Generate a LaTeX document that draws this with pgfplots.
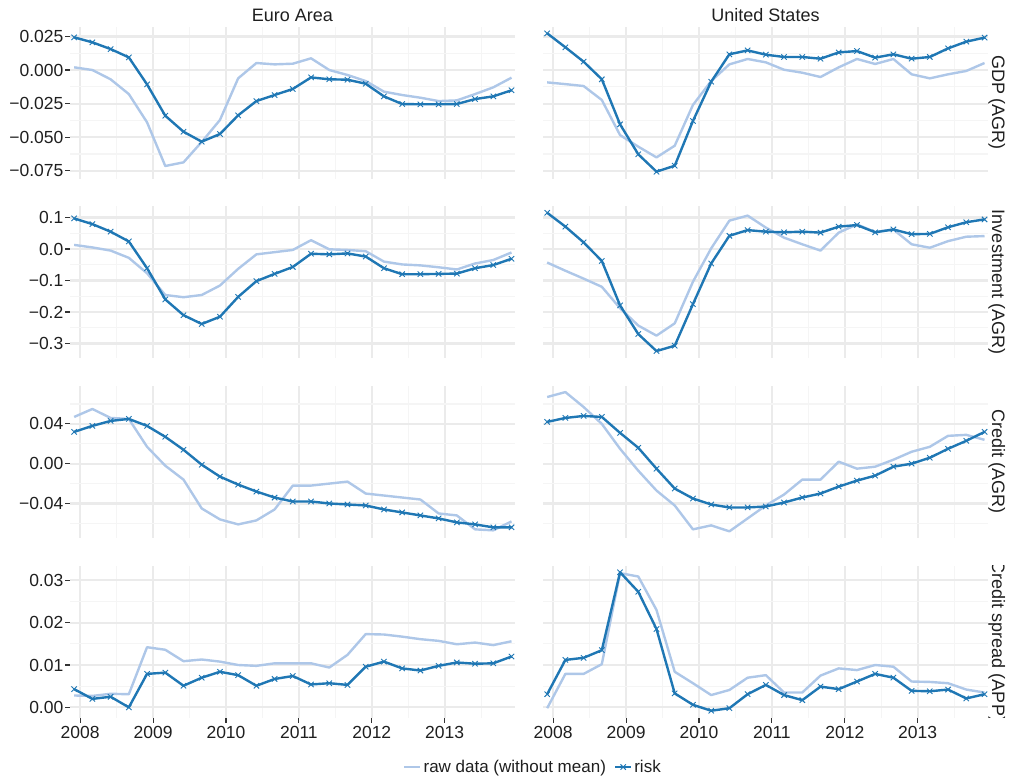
\documentclass[border=0pt]{standalone}
\usepackage{fontspec}
\setmainfont{Liberation Sans}
\usepackage{pgfplots}
\pgfplotsset{compat=1.18}
\usepackage{pgfplotstable}
\definecolor{riskc}{HTML}{1F77B4}
\definecolor{rawc}{HTML}{AEC7E8}
\definecolor{gridmaj}{HTML}{EBEBEB}
\definecolor{gridmin}{HTML}{F5F5F5}
\definecolor{tickc}{HTML}{333333}

\pgfplotstableread{
x        earaw   earisk  usraw   usrisk
2007.917  0.0020  0.0243 -0.0092  0.0273
2008.167  0.0000  0.0206 -0.0105  0.0169
2008.417 -0.0069  0.0156 -0.0119  0.0062
2008.667 -0.0179  0.0094 -0.0223 -0.0069
2008.917 -0.0389 -0.0107 -0.0484 -0.0404
2009.167 -0.0714 -0.0340 -0.0570 -0.0627
2009.417 -0.0687 -0.0459 -0.0650 -0.0756
2009.667 -0.0535 -0.0533 -0.0563 -0.0712
2009.917 -0.0372 -0.0476 -0.0260 -0.0379
2010.167 -0.0062 -0.0337 -0.0082 -0.0087
2010.417  0.0052 -0.0231  0.0042  0.0117
2010.667  0.0042 -0.0186  0.0082  0.0146
2010.917  0.0047 -0.0141  0.0057  0.0114
2011.167  0.0087 -0.0055  0.0002  0.0097
2011.417  0.0000 -0.0069 -0.0020  0.0097
2011.667 -0.0037 -0.0072 -0.0052  0.0084
2011.917 -0.0082 -0.0102  0.0020  0.0131
2012.167 -0.0161 -0.0196  0.0082  0.0141
2012.417 -0.0186 -0.0253  0.0045  0.0092
2012.667 -0.0206 -0.0255  0.0082  0.0117
2012.917 -0.0231 -0.0255 -0.0032  0.0084
2013.167 -0.0226 -0.0253 -0.0062  0.0097
2013.417 -0.0179 -0.0216 -0.0032  0.0161
2013.667 -0.0129 -0.0196 -0.0007  0.0211
2013.917 -0.0057 -0.0151  0.0052  0.0241
}\gdp

\pgfplotstableread{
x        earaw   earisk  usraw   usrisk
2007.917  0.013   0.097  -0.043   0.115
2008.167  0.005   0.079  -0.069   0.071
2008.417 -0.005   0.055  -0.094   0.021
2008.667 -0.028   0.024  -0.120  -0.038
2008.917 -0.077  -0.061  -0.188  -0.179
2009.167 -0.146  -0.160  -0.243  -0.270
2009.417 -0.153  -0.210  -0.275  -0.324
2009.667 -0.146  -0.238  -0.236  -0.307
2009.917 -0.116  -0.215  -0.104  -0.175
2010.167 -0.063  -0.152   0.002  -0.046
2010.417 -0.017  -0.102   0.090   0.042
2010.667 -0.010  -0.079   0.106   0.060
2010.917 -0.003  -0.057   0.068   0.055
2011.167  0.028  -0.015   0.036   0.053
2011.417 -0.001  -0.017   0.015   0.055
2011.667 -0.003  -0.014  -0.005   0.052
2011.917 -0.007  -0.024   0.052   0.071
2012.167 -0.040  -0.061   0.078   0.076
2012.417 -0.049  -0.080   0.054   0.053
2012.667 -0.052  -0.080   0.062   0.062
2012.917 -0.058  -0.079   0.015   0.047
2013.167 -0.065  -0.078   0.004   0.048
2013.417 -0.046  -0.061   0.025   0.069
2013.667 -0.035  -0.051   0.039   0.085
2013.917 -0.011  -0.031   0.041   0.094
}\inv

\pgfplotstableread{
x        earaw   earisk  usraw   usrisk
2007.917  0.047   0.032   0.067   0.042
2008.167  0.055   0.038   0.072   0.046
2008.417  0.046   0.043   0.057   0.048
2008.667  0.045   0.045   0.040   0.047
2008.917  0.017   0.038   0.015   0.031
2009.167 -0.002   0.027  -0.007   0.016
2009.417 -0.016   0.014  -0.027  -0.005
2009.667 -0.045  -0.001  -0.042  -0.025
2009.917 -0.056  -0.013  -0.066  -0.035
2010.167 -0.061  -0.021  -0.062  -0.041
2010.417 -0.057  -0.028  -0.068  -0.044
2010.667 -0.046  -0.034  -0.055  -0.044
2010.917 -0.022  -0.038  -0.042  -0.043
2011.167 -0.022  -0.038  -0.031  -0.039
2011.417 -0.020  -0.040  -0.016  -0.034
2011.667 -0.018  -0.041  -0.016  -0.030
2011.917 -0.030  -0.042   0.002  -0.023
2012.167 -0.032  -0.046  -0.005  -0.017
2012.417 -0.034  -0.049  -0.003  -0.012
2012.667 -0.036  -0.052   0.004  -0.003
2012.917 -0.050  -0.055   0.012   0.000
2013.167 -0.052  -0.059   0.017   0.006
2013.417 -0.066  -0.061   0.028   0.015
2013.667 -0.067  -0.064   0.029   0.023
2013.917 -0.058  -0.064   0.024   0.032
}\cred

\pgfplotstableread{
x        earaw   earisk  usraw   usrisk
2007.917  0.0028  0.0043 -0.0002  0.0031
2008.167  0.0027  0.0020  0.0079  0.0112
2008.417  0.0032  0.0025  0.0079  0.0117
2008.667  0.0031  0.0000  0.0102  0.0135
2008.917  0.0142  0.0079  0.0317  0.0319
2009.167  0.0136  0.0082  0.0309  0.0273
2009.417  0.0109  0.0051  0.0230  0.0185
2009.667  0.0113  0.0070  0.0084  0.0033
2009.917  0.0108  0.0084  0.0057  0.0006
2010.167  0.0100  0.0076  0.0029 -0.0008
2010.417  0.0098  0.0051  0.0041 -0.0002
2010.667  0.0104  0.0067  0.0070  0.0031
2010.917  0.0104  0.0074  0.0076  0.0053
2011.167  0.0104  0.0054  0.0035  0.0029
2011.417  0.0094  0.0057  0.0035  0.0017
2011.667  0.0124  0.0053  0.0075  0.0049
2011.917  0.0173  0.0096  0.0092  0.0043
2012.167  0.0172  0.0108  0.0088  0.0061
2012.417  0.0167  0.0092  0.0100  0.0079
2012.667  0.0161  0.0087  0.0096  0.0070
2012.917  0.0157  0.0098  0.0061  0.0039
2013.167  0.0149  0.0106  0.0060  0.0038
2013.417  0.0153  0.0103  0.0057  0.0042
2013.667  0.0147  0.0104  0.0042  0.0021
2013.917  0.0156  0.0120  0.0035  0.0031
}\spread

\pgfplotsset{
  panel/.style={
    scale only axis, width=445bp, height=152bp, anchor=north west,
    xmin=2007.86, xmax=2013.965,
    xtick={2008,2009,2010,2011,2012,2013},
    xticklabels={2008,2009,2010,2011,2012,2013},
    minor xtick={2008.5,2009.5,2010.5,2011.5,2012.5,2013.5},
    scaled ticks=false,
    grid=both,
    major grid style={draw=gridmaj, line width=2.2bp},
    minor grid style={draw=gridmin, line width=1.1bp},
    axis line style={draw=none},
    tick pos=left, tick align=outside,
    major tick length=5bp, minor tick length=0pt,
    tick style={draw=tickc, line width=1.1bp},
    ticklabel style={font=\fontsize{17.5bp}{20bp}\selectfont, text=black!88, inner sep=1.5bp},
    xticklabel style={yshift=-2bp},
    /pgf/number format/assume math mode=true,
    clip=true,
  },
  notbottom/.style={xticklabels={}, xtick style={draw=none}},
  rightcol/.style={yticklabels={}, ytick style={draw=none}},
  rowA/.style={ymin=-0.0807, ymax=0.03237,
    ytick={-0.075,-0.05,-0.025,0,0.025},
    yticklabels={−0.075,−0.050,−0.025,0.000,0.025},
    minor ytick={-0.0625,-0.0375,-0.0125,0.0125}},
  rowB/.style={ymin=-0.346, ymax=0.1365,
    ytick={-0.3,-0.2,-0.1,0,0.1},
    yticklabels={−0.3,−0.2,−0.1,0.0,0.1},
    minor ytick={-0.25,-0.15,-0.05,0.05}},
  rowC/.style={ymin=-0.0745, ymax=0.0783,
    ytick={-0.04,0,0.04},
    yticklabels={−0.04,0.00,0.04},
    minor ytick={-0.06,-0.02,0.02,0.06}},
  rowD/.style={ymin=-0.0024, ymax=0.0335,
    ytick={0,0.01,0.02,0.03},
    yticklabels={0.00,0.01,0.02,0.03},
    minor ytick={0.005,0.015,0.025}},
  rawline/.style={rawc, line width=2.4bp, line join=round, no markers},
  riskline/.style={riskc, line width=2.4bp, line join=round, mark=x, mark size=3.8bp,
    mark options={line width=0.9bp, solid}},
}

\begin{document}
\begin{tikzpicture}
\useasboundingbox (0bp,0bp) rectangle (1010bp,-778bp);

% Row 1 GDP
\begin{axis}[panel, rowA, notbottom, at={(70bp,-26.5bp)}]
\addplot[rawline] table[x=x,y=earaw]{\gdp};
\addplot[riskline] table[x=x,y=earisk]{\gdp};
\end{axis}
\begin{axis}[panel, rowA, notbottom, rightcol, at={(543bp,-26.5bp)}]
\addplot[rawline] table[x=x,y=usraw]{\gdp};
\addplot[riskline] table[x=x,y=usrisk]{\gdp};
\end{axis}

% Row 2 Investment
\begin{axis}[panel, rowB, notbottom, at={(70bp,-206bp)}]
\addplot[rawline] table[x=x,y=earaw]{\inv};
\addplot[riskline] table[x=x,y=earisk]{\inv};
\end{axis}
\begin{axis}[panel, rowB, notbottom, rightcol, at={(543bp,-206bp)}]
\addplot[rawline] table[x=x,y=usraw]{\inv};
\addplot[riskline] table[x=x,y=usrisk]{\inv};
\end{axis}

% Row 3 Credit
\begin{axis}[panel, rowC, notbottom, at={(70bp,-385.8bp)}]
\addplot[rawline] table[x=x,y=earaw]{\cred};
\addplot[riskline] table[x=x,y=earisk]{\cred};
\end{axis}
\begin{axis}[panel, rowC, notbottom, rightcol, at={(543bp,-385.8bp)}]
\addplot[rawline] table[x=x,y=usraw]{\cred};
\addplot[riskline] table[x=x,y=usrisk]{\cred};
\end{axis}

% Row 4 Credit spread
\begin{axis}[panel, rowD, at={(70bp,-565.5bp)},
  legend columns=2,
  legend style={at={(1.0404,-0.3257)}, anchor=center, draw=none, fill=none,
    font=\fontsize{17bp}{20bp}\selectfont, text=black!88,
    /tikz/every even column/.append style={column sep=6bp}},
  legend image code/.code={\draw[mark repeat=2,mark phase=2,#1] plot coordinates {(0bp,0bp) (8bp,0bp) (16bp,0bp)};}]
\addplot[rawline] table[x=x,y=earaw]{\spread};
\addlegendentry{raw data (without mean)}
\addplot[riskline] table[x=x,y=earisk]{\spread};
\addlegendentry{risk}
\end{axis}
\begin{axis}[panel, rowD, rightcol, at={(543bp,-565.5bp)}]
\addplot[rawline] table[x=x,y=usraw]{\spread};
\addplot[riskline] table[x=x,y=usrisk]{\spread};
\end{axis}

% strip labels
\begin{scope}[every node/.style={font=\fontsize{18bp}{21bp}\selectfont, text=black!88, inner sep=0pt}]
\node[anchor=base] at (292.5bp,-21bp) {Euro Area};
\node[anchor=base] at (765.5bp,-21bp) {United States};
\node[anchor=base, rotate=-90] at (992bp,-102.5bp) {GDP (AGR)};
\node[anchor=base, rotate=-90] at (992bp,-282bp) {Investment (AGR)};
\node[anchor=base, rotate=-90] at (992bp,-461.8bp) {Credit (AGR)};
\begin{scope}
\clip (985bp,-565.5bp) rectangle (1010bp,-717.5bp);
\node[anchor=base, rotate=-90] at (992bp,-641.5bp) {Credit spread (APP)};
\end{scope}
\end{scope}
\end{tikzpicture}
\end{document}
